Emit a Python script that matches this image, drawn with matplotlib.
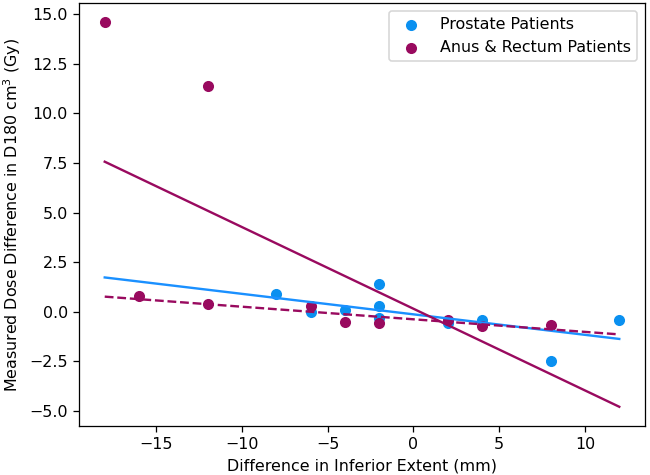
import numpy as np
import matplotlib
matplotlib.use("Agg")
import matplotlib.pyplot as plt

# Prostate patients
prostate_x = [-8, -6, -4, -2, -2, -2, 2, 4, 8, 12]
prostate_y = [0.87, -0.03, 0.06, 1.38, 0.28, -0.30, -0.55, -0.40, -2.48, -0.40]

# Anus & rectum patients
anus_x = [-18, -16, -12, -12, -6, -4, -2, 2, 4, 8]
anus_y = [14.60, 0.78, 11.38, 0.37, 0.28, -0.52, -0.57, -0.43, -0.70, -0.65]

# the two large anus/rectum values are left out of the dashed fit
outliers = [0, 2]

blue = "#0A90F0"
purple = "#990A5F"

dpi = 114
fig = plt.figure(figsize=(650 / dpi, 475 / dpi), dpi=dpi)
ax = fig.add_axes([79 / 650, 49 / 475, 566 / 650, 423 / 475])

ax.scatter(prostate_x, prostate_y, color=blue, label="Prostate Patients", zorder=2)
ax.scatter(anus_x, anus_y, color=purple, label="Anus & Rectum Patients", zorder=2)

# fits drawn across the full x range of both groups
all_x = np.array(prostate_x + anus_x)
xs = np.array([all_x.min(), all_x.max()])

p = np.polyfit(prostate_x, prostate_y, 1)
ax.plot(xs, np.polyval(p, xs), color="#1A90FF", lw=1.5, zorder=3)

a = np.polyfit(anus_x, anus_y, 1)
ax.plot(xs, np.polyval(a, xs), color=purple, lw=1.5, zorder=3)

keep = [i for i in range(len(anus_x)) if i not in outliers]
ad = np.polyfit(np.array(anus_x)[keep], np.array(anus_y)[keep], 1)
ax.plot(xs, np.polyval(ad, xs), color=purple, lw=1.5, ls="--", zorder=3)

ax.set_xlabel("Difference in Inferior Extent (mm)")
ax.set_ylabel("Measured Dose Difference in D180 cm$^3$ (Gy)")
ax.legend(loc="upper right")

fig.savefig("out.png", dpi=dpi)
